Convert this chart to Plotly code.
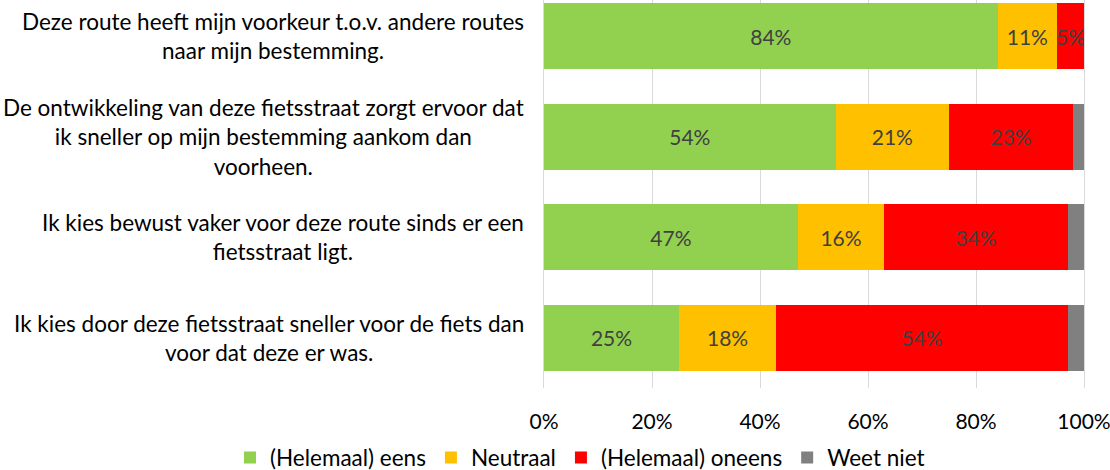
import plotly.graph_objects as go

categories = [
    "Deze route heeft mijn voorkeur t.o.v. andere routes<br>naar mijn bestemming.",
    "De ontwikkeling van deze fietsstraat zorgt ervoor dat<br>ik sneller op mijn bestemming aankom dan<br>voorheen.",
    "Ik kies bewust vaker voor deze route sinds er een<br>fietsstraat ligt.",
    "Ik kies door deze fietsstraat sneller voor de fiets dan<br>voor dat deze er was.",
]
series_names = ["(Helemaal) eens", "Neutraal", "(Helemaal) oneens", "Weet niet"]
eens = [84, 54, 47, 25]
neutraal = [11, 21, 16, 18]
oneens = [5, 23, 34, 54]
weet_niet = [0, 2, 3, 3]
colors = ["#92D050", "#FFC000", "#FF0000", "#808080"]
show_labels = [True, True, True, False]
x_ticks = [0, 20, 40, 60, 80, 100]
x_tick_labels = ["0%", "20%", "40%", "60%", "80%", "100%"]

FONT = "Lato"
FS_NUM = 21
FS_TXT = 22.5

ypos = list(range(len(categories)))
fig = go.Figure()
for name, vals, col, lab in zip(series_names, [eens, neutraal, oneens, weet_niet], colors, show_labels):
    fig.add_trace(go.Bar(
        y=ypos, x=vals, name=name, orientation="h",
        marker=dict(color=col, line=dict(width=0)),
        width=0.66,
        text=[f"{v}%" if (lab and v > 0) else "" for v in vals],
        textposition="inside", insidetextanchor="middle",
        constraintext="none", textangle=0,
        textfont=dict(family=FONT, size=FS_NUM, color="#404040"),
        hoverinfo="skip",
    ))

for i, c in enumerate(categories):
    fig.add_annotation(
        x=0, xref="paper", y=i, yref="y", text=c, showarrow=False,
        xanchor="right", yanchor="middle", align="center", xshift=-18,
        font=dict(family=FONT, size=FS_TXT, color="#000000"),
    )

L, R = 544, 26
fig.update_layout(
    barmode="stack",
    width=1110, height=470,
    margin=dict(l=L, r=R, t=0, b=82, autoexpand=False),
    paper_bgcolor="white", plot_bgcolor="white",
    font=dict(family=FONT, size=FS_NUM, color="#000000"),
    showlegend=True,
    legend=dict(orientation="h", x=(230 - L) / (1110 - L - R), xanchor="left",
                y=-0.1804, yanchor="middle",
                traceorder="normal", font=dict(family=FONT, size=FS_TXT, color="#000000"),
                itemwidth=30, bgcolor="rgba(0,0,0,0)"),
    xaxis=dict(range=[0, 100], tickvals=x_ticks, ticktext=x_tick_labels,
               showgrid=True, gridcolor="#D9D9D9", gridwidth=1, zeroline=False,
               showline=False, ticks="", ticklabelstandoff=19,
               ticklabeloverflow="allow", fixedrange=True),
    yaxis=dict(range=[3.5, -0.36], showticklabels=False, showgrid=False,
               zeroline=False, showline=True, mirror=True, linecolor="#D9D9D9",
               linewidth=1, layer="below traces", fixedrange=True),
)
fig.write_html("out.html", config={"displayModeBar": False},
               post_script="document.body.style.margin='0';")
